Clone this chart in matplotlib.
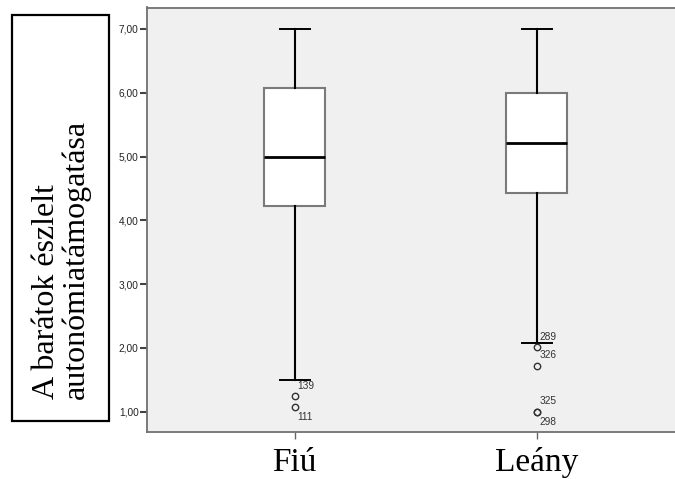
"""Boxplot of perceived friend autonomy support by gender (SPSS-style)."""

import matplotlib
matplotlib.use("Agg")
import matplotlib.pyplot as plt
from matplotlib.patches import Rectangle

# Data
groups = ["Fiú", "Leány"]
whisker_low = [1.50, 2.08]
q1 = [4.22, 4.43]
median = [5.00, 5.22]
q3 = [6.08, 6.00]
whisker_high = [7.00, 7.00]
outliers = [[1.24, 1.08], [2.01, 1.72, 1.00, 1.00]]
outlier_ids = [["139", "111"], ["289", "326", "325", "298"]]
# +1 = label above the point, -1 = below
label_side = [[1, -1], [1, 1, 1, -1]]

y_ticks = [1, 2, 3, 4, 5, 6, 7]
y_tick_labels = ["1,00", "2,00", "3,00", "4,00", "5,00", "6,00", "7,00"]
y_title = "A barátok észlelt\nautonómiatámogatása"

W, H = 675, 479
fig = plt.figure(figsize=(W / 100, H / 100), dpi=100)
ax = fig.add_axes([147 / W, 1 - 432 / H, 1 - 147 / W + 0.01, (432 - 7.5) / H])
ax.set_facecolor("#f0f0f0")

stats = []
for i, name in enumerate(groups):
    stats.append({
        "label": name,
        "whislo": whisker_low[i],
        "q1": q1[i],
        "med": median[i],
        "q3": q3[i],
        "whishi": whisker_high[i],
        "fliers": outliers[i],
    })

positions = list(range(len(groups)))
ax.bxp(
    stats,
    positions=positions,
    widths=0.2526,
    capwidths=0.124,
    patch_artist=True,
    boxprops=dict(facecolor="white", edgecolor="#7a7a7a", linewidth=1.5),
    medianprops=dict(color="black", linewidth=2.0),
    whiskerprops=dict(color="black", linewidth=1.5),
    capprops=dict(color="black", linewidth=1.4),
    flierprops=dict(marker="o", markersize=4.6, markerfacecolor="none",
                    markeredgecolor="#333333", markeredgewidth=1.0),
)

# Case labels next to outliers
for i, pos in enumerate(positions):
    for val, cid, side in zip(outliers[i], outlier_ids[i], label_side[i]):
        ax.annotate(cid, (pos, val), xytext=(2, 7.6 * side),
                    textcoords="offset points", ha="left", va="center",
                    fontsize=7.3, color="#333333", family="Liberation Sans")

ax.set_xlim(-0.611, 1.60)
ax.set_ylim(0.682, 7.337)
ax.set_yticks(y_ticks)
ax.set_yticklabels(y_tick_labels, fontsize=7.3, color="#222222",
                   family="Liberation Sans")
ax.set_xticks(positions)
ax.set_xticklabels(groups, fontsize=24, family="Liberation Serif")
ax.tick_params(axis="y", length=5, width=1.5, pad=1, color="#444444")
ax.tick_params(axis="x", length=5, width=1, pad=6, color="#666666")
for side in ["left", "bottom", "top", "right"]:
    ax.spines[side].set_color("#707070")
    ax.spines[side].set_linewidth(1.3)

# Framed y-axis title
fig.patches.append(Rectangle((12 / W, 1 - 420.5 / H), 97.5 / W, 406 / H,
                             transform=fig.transFigure, fill=False,
                             edgecolor="black", linewidth=1.6))
fig.text(61.5 / W, 1 - 399 / H, y_title, rotation=90, ha="center", va="bottom",
         multialignment="left", fontsize=23, family="Liberation Serif",
         linespacing=1.0)

fig.savefig("out.png", dpi=100)
